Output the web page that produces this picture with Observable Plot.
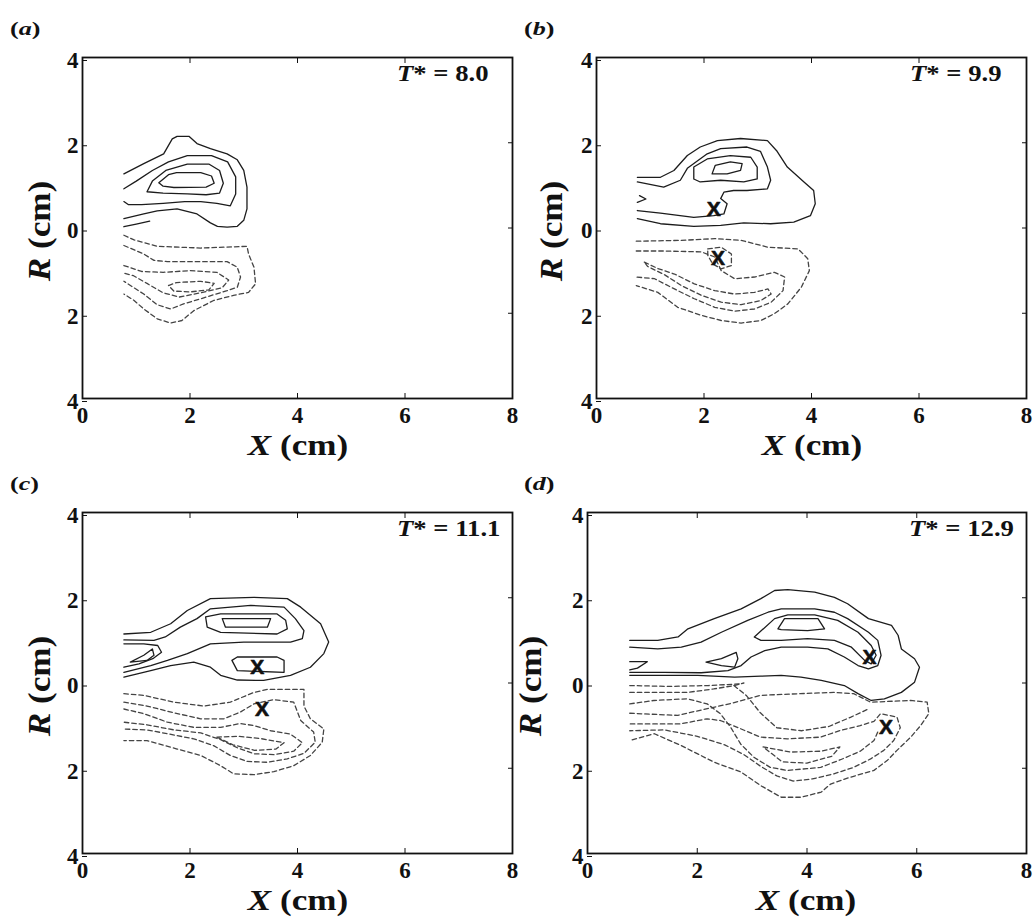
<!DOCTYPE html>
<html><head><meta charset="utf-8">
<script src="https://cdn.jsdelivr.net/npm/d3@7"></script>
<script src="https://cdn.jsdelivr.net/npm/@observablehq/plot@0.6"></script>
<style>
body{margin:0;background:#fff;}
#page{position:relative;width:1034px;height:920px;overflow:hidden;font-family:"Liberation Serif","Times New Roman",serif;font-weight:bold;color:#111;}
.panel{position:absolute;}
.lab{position:absolute;white-space:nowrap;line-height:1;}
.plabel{font-size:18px;transform:scaleX(1.45);transform-origin:left center;}
.tstar{font-size:23px;transform:scaleX(1.16);transform-origin:left center;}
.xlab{font-size:30px;line-height:0.5;transform:translateX(-50%) scaleX(1.17);}
.ylab{font-size:32px;line-height:0.6;transform:translate(-50%,-50%) rotate(-90deg) scaleX(1.1);}
</style></head>
<body><div id="page"></div>
<script>
// ---- ticks & labels ----
const xTicks = [0, 2, 4, 6, 8];
const yTicks = [-4, -2, 0, 2, 4];
const panelLetters = ["a", "b", "c", "d"];
const timeLabels = ["8.0", "9.9", "11.1", "12.9"];

// ---- panel (a) contours: positive (solid) and negative (dashed) ----
const solidA = [
  [[0.77,1.27],[1.14,1.51],[1.51,1.74],[1.67,2.09],[1.76,2.15],[1.98,2.15],[2.13,1.98],[2.38,1.86],[2.69,1.74],[2.88,1.60],[3.0,1.35],[3.06,0.96],[3.06,0.45],[3.0,0.18],[2.88,0.04],[2.69,0.02],[2.51,0.04],[2.38,0.12],[2.13,0.33],[1.76,0.45],[1.39,0.40],[1.14,0.33],[0.77,0.22]],
  [[0.77,0.03],[1.0,0.09],[1.25,0.16]],
  [[0.77,0.92],[1.0,1.1],[1.3,1.35],[1.6,1.55],[1.95,1.70],[2.4,1.70],[2.7,1.55],[2.85,1.20],[2.85,0.80],[2.75,0.52],[2.5,0.58],[2.2,0.62],[1.9,0.62],[1.5,0.58],[1.1,0.55],[0.85,0.55],[0.77,0.62]],
  [[1.2,0.85],[1.3,1.1],[1.55,1.35],[1.95,1.50],[2.35,1.50],[2.55,1.35],[2.62,1.05],[2.55,0.82],[2.3,0.78],[1.95,0.80],[1.5,0.82],[1.2,0.85]],
  [[1.42,1.06],[1.6,1.25],[1.75,1.30],[2.2,1.30],[2.4,1.22],[2.45,1.05],[2.3,0.96],[1.7,0.95],[1.5,0.98],[1.42,1.06]]
];
const dashedA = [
  [[0.77,-0.17],[0.96,-0.28],[1.39,-0.43],[2.2,-0.47],[3.06,-0.43],[3.09,-0.61],[3.19,-0.92],[3.22,-1.31],[3.09,-1.51],[2.81,-1.58],[2.44,-1.70],[2.07,-1.94],[1.85,-2.17],[1.64,-2.23],[1.39,-2.13],[1.14,-1.90],[0.96,-1.70],[0.77,-1.55]],
  [[0.77,-0.41],[1.14,-0.61],[1.33,-0.76],[1.58,-0.79],[2.69,-0.79],[2.88,-0.92],[2.94,-1.15],[2.88,-1.39],[2.69,-1.47],[2.2,-1.66],[1.88,-1.78],[1.64,-1.90],[1.39,-1.80],[1.14,-1.55],[0.77,-1.25]],
  [[0.77,-0.88],[1.1,-1.02],[1.5,-1.04],[2.0,-1.0],[2.5,-1.04],[2.72,-1.22],[2.6,-1.40],[2.2,-1.52],[1.8,-1.62],[1.5,-1.52],[1.2,-1.30],[0.95,-1.12],[0.77,-1.06]],
  [[1.6,-1.35],[1.75,-1.28],[2.2,-1.25],[2.45,-1.30],[2.35,-1.45],[2.0,-1.50],[1.7,-1.48],[1.6,-1.35]]
];
const markXA = [];
const markYA = [];

// ---- panel (b) ----
const solidB = [
  [[0.76,1.19],[1.19,1.19],[1.44,1.35],[1.69,1.70],[1.93,1.90],[2.25,2.05],[2.68,2.10],[3.18,2.05],[3.36,1.80],[3.55,1.43],[3.86,1.08],[4.04,0.88],[4.07,0.57],[3.98,0.29],[3.67,0.14],[3.24,0.10],[2.74,0.12],[2.31,0.06],[1.81,0.04],[1.19,0.10],[0.76,0.22]],
  [[0.76,1.08],[1.25,0.96],[1.56,1.12],[1.69,1.40],[2.06,1.74],[2.31,1.86],[2.80,1.90],[3.05,1.80],[3.18,1.43],[3.24,1.12],[3.18,0.92],[2.80,0.88],[2.55,0.88],[2.37,0.84],[2.31,0.69],[2.43,0.57],[2.37,0.33],[2.18,0.29],[1.81,0.25],[1.19,0.35],[0.76,0.41]],
  [[1.81,1.15],[1.81,1.43],[2.06,1.62],[2.49,1.70],[2.87,1.66],[2.99,1.43],[2.99,1.15],[2.74,1.08],[2.31,1.12],[1.93,1.08],[1.81,1.15]],
  [[2.15,1.27],[2.21,1.47],[2.49,1.55],[2.71,1.51],[2.68,1.35],[2.43,1.27],[2.15,1.27]],
  [[0.76,0.60],[0.92,0.68],[0.80,0.76]]
];
const dashedB = [
  [[0.74,-0.31],[1.58,-0.29],[2.20,-0.25],[2.69,-0.29],[3.19,-0.45],[3.75,-0.49],[3.93,-0.72],[3.96,-1.0],[3.81,-1.39],[3.56,-1.78],[3.31,-2.01],[3.06,-2.17],[2.69,-2.23],[2.32,-2.17],[1.95,-2.05],[1.51,-1.86],[1.14,-1.51],[0.74,-1.35]],
  [[0.74,-0.54],[1.27,-0.54],[1.95,-0.56],[2.20,-0.68],[2.32,-1.0],[2.57,-1.19],[2.94,-1.15],[3.31,-1.04],[3.50,-1.15],[3.47,-1.47],[3.25,-1.74],[2.94,-1.90],[2.57,-1.95],[2.20,-1.86],[1.82,-1.66],[1.45,-1.43],[1.08,-1.19],[0.74,-1.15]],
  [[0.89,-0.80],[1.14,-0.95],[1.45,-1.08],[1.82,-1.31],[2.20,-1.47],[2.57,-1.55],[2.94,-1.51],[3.19,-1.43],[3.25,-1.55],[3.06,-1.70],[2.69,-1.80],[2.32,-1.74],[1.95,-1.58],[1.58,-1.35],[1.27,-1.10],[0.95,-0.90],[0.89,-0.80]],
  [[2.07,-0.49],[2.32,-0.45],[2.51,-0.61],[2.51,-0.88],[2.32,-0.96],[2.16,-0.84],[2.07,-0.64],[2.07,-0.49]]
];
const markXB = [2.18, 2.26];
const markYB = [0.45, -0.72];

// ---- panel (c) ----
const solidC = [
  [[0.77,1.15],[1.27,1.19],[1.64,1.39],[1.95,1.70],[2.38,1.98],[3.19,2.01],[3.81,1.98],[4.06,1.78],[4.43,1.39],[4.58,0.96],[4.49,0.69],[4.24,0.37],[3.87,0.18],[3.37,0.06],[2.88,0.07],[2.57,0.18],[2.38,0.37],[2.07,0.49],[1.64,0.41],[1.27,0.29],[0.77,0.14]],
  [[0.77,1.01],[1.33,1.0],[1.54,1.08],[1.82,1.31],[2.13,1.51],[2.38,1.74],[3.13,1.82],[3.75,1.78],[3.96,1.51],[4.12,1.23],[4.09,1.04],[3.87,0.96],[3.44,0.96],[3.0,0.96],[2.38,0.92],[1.95,0.69],[1.58,0.53],[1.27,0.41],[0.77,0.25]],
  [[2.29,1.55],[2.32,1.31],[2.57,1.19],[3.62,1.15],[3.81,1.27],[3.78,1.47],[3.62,1.62],[2.57,1.62],[2.29,1.55]],
  [[2.60,1.51],[2.66,1.31],[3.44,1.31],[3.50,1.51],[2.60,1.51]],
  [[2.78,0.53],[2.88,0.29],[3.75,0.25],[3.75,0.53],[3.62,0.61],[2.88,0.61],[2.78,0.53]],
  [[0.89,0.49],[1.14,0.65],[1.30,0.80],[1.33,0.65],[1.20,0.53],[0.89,0.49]],
  [[0.77,0.92],[1.14,0.92],[1.40,0.88],[1.47,0.72],[1.32,0.58],[1.05,0.45],[0.77,0.37]]
];
const dashedC = [
  [[0.77,-0.25],[1.14,-0.29],[1.70,-0.45],[2.26,-0.54],[2.75,-0.45],[3.19,-0.22],[3.44,-0.15],[4.12,-0.15],[4.12,-0.54],[4.24,-0.84],[4.49,-1.08],[4.46,-1.39],[4.24,-1.70],[3.93,-1.94],[3.56,-2.08],[3.19,-2.15],[2.81,-2.13],[2.57,-1.94],[2.20,-1.70],[1.76,-1.55],[1.20,-1.35],[0.77,-1.35]],
  [[0.77,-0.45],[1.20,-0.54],[1.70,-0.70],[2.20,-0.84],[2.63,-0.84],[2.94,-0.68],[3.19,-0.49],[3.56,-0.39],[3.93,-0.45],[4.06,-0.88],[4.30,-1.15],[4.33,-1.39],[4.12,-1.65],[3.81,-1.78],[3.44,-1.86],[3.06,-1.84],[2.75,-1.70],[2.44,-1.47],[2.07,-1.31],[1.58,-1.19],[1.20,-1.10],[0.77,-1.08]],
  [[0.77,-0.61],[1.14,-0.72],[1.58,-0.92],[2.07,-1.04],[2.57,-1.04],[2.94,-0.95],[3.19,-1.00],[3.50,-1.12],[3.87,-1.20],[4.09,-1.40],[3.93,-1.60],[3.56,-1.68],[3.19,-1.66],[2.88,-1.52],[2.57,-1.33],[2.20,-1.17],[1.70,-1.10],[1.20,-0.98],[0.77,-0.92]],
  [[2.5,-1.27],[2.9,-1.25],[3.3,-1.30],[3.75,-1.40],[3.6,-1.55],[3.2,-1.58],[2.8,-1.45],[2.5,-1.27]]
];
const markXC = [3.25, 3.34];
const markYC = [0.37, -0.61];

// ---- panel (d) ----
const solidD = [
  [[0.77,1.0],[1.28,1.0],[1.65,1.08],[1.83,1.27],[2.31,1.51],[2.80,1.74],[3.16,1.98],[3.41,2.17],[3.65,2.19],[4.14,2.13],[4.50,2.01],[4.74,1.86],[5.12,1.51],[5.54,1.35],[5.66,1.12],[5.72,0.80],[5.96,0.57],[6.05,0.37],[5.96,0.02],[5.72,-0.22],[5.41,-0.37],[5.17,-0.41],[4.93,-0.25],[4.68,-0.06],[4.26,0.06],[3.89,0.14],[3.53,0.18],[3.16,0.16],[2.68,0.14],[2.01,0.18],[0.77,0.18]],
  [[0.77,0.84],[1.28,0.80],[1.71,0.84],[2.07,0.96],[2.44,1.19],[2.92,1.47],[3.29,1.66],[3.53,1.74],[4.14,1.74],[4.50,1.66],[4.74,1.51],[5.12,1.19],[5.29,1.0],[5.35,0.65],[5.29,0.41],[5.12,0.33],[4.93,0.41],[4.68,0.61],[4.38,0.80],[4.01,0.84],[3.53,0.84],[3.23,0.76],[2.98,0.61],[2.80,0.41],[2.56,0.29],[2.07,0.24],[1.40,0.25],[0.77,0.25]],
  [[3.04,1.08],[3.41,1.51],[3.65,1.60],[4.14,1.60],[4.56,1.47],[4.93,1.19],[5.17,0.88],[5.26,0.65],[5.17,0.45],[5.05,0.53],[4.81,0.84],[4.50,1.0],[4.01,1.04],[3.53,1.0],[3.16,1.0],[3.04,1.08]],
  [[3.47,1.27],[3.59,1.51],[4.20,1.51],[4.32,1.27],[4.01,1.23],[3.53,1.25],[3.47,1.27]],
  [[2.16,0.49],[2.44,0.57],[2.71,0.72],[2.74,0.57],[2.68,0.37],[2.44,0.41],[2.16,0.49]],
  [[0.77,0.50],[1.09,0.50],[0.91,0.35],[0.77,0.31]]
];
const dashedD = [
  [[0.77,-0.71],[1.64,-0.76],[2.61,-0.48],[3.15,-0.29],[3.88,-0.25],[4.49,-0.22],[4.85,-0.25],[5.16,-0.45],[5.89,-0.41],[6.19,-0.45],[6.22,-0.72],[6.07,-1.0],[5.89,-1.27],[5.64,-1.58],[5.46,-1.82],[5.22,-2.05],[4.79,-2.21],[4.43,-2.37],[4.26,-2.56],[3.89,-2.68],[3.53,-2.68],[3.16,-2.41],[2.80,-2.09],[2.31,-1.86],[1.71,-1.47],[1.22,-1.19],[0.77,-1.35]],
  [[0.78,-0.96],[1.69,-0.96],[2.18,-0.84],[2.42,-0.88],[2.73,-1.04],[3.15,-1.27],[3.64,-1.31],[4.25,-1.27],[4.61,-1.11],[4.97,-1.0],[5.22,-0.90],[5.34,-0.72],[5.64,-0.80],[5.70,-1.05],[5.58,-1.35],[5.40,-1.58],[5.16,-1.78],[4.85,-1.98],[4.49,-2.13],[4.10,-2.25],[3.75,-2.30],[3.45,-2.18],[3.15,-1.95],[2.85,-1.68],[2.50,-1.45],[2.00,-1.25],[1.40,-1.10],[0.77,-1.12]],
  [[0.77,-0.49],[1.21,-0.41],[1.82,-0.37],[2.18,-0.49],[2.42,-0.72],[2.61,-1.04],[2.79,-1.43],[3.03,-1.74],[3.33,-1.98],[3.64,-2.05],[4.00,-2.01],[4.25,-1.98],[4.61,-1.80],[4.97,-1.60],[5.22,-1.35],[5.30,-1.12]],
  [[0.77,-0.06],[1.5,-0.08],[2.2,-0.06],[2.8,-0.02]],
  [[0.77,-0.22],[1.82,-0.22],[2.30,-0.14],[2.67,-0.06],[2.85,0.0]],
  [[2.67,-0.06],[2.9,-0.30],[3.15,-0.70],[3.45,-1.05],[3.9,-1.12],[4.4,-1.02],[4.8,-0.80],[5.1,-0.62]],
  [[3.2,-1.50],[3.7,-1.62],[4.25,-1.60],[4.6,-1.50],[4.45,-1.72],[4.0,-1.88],[3.55,-1.85],[3.2,-1.50]]
];
const markXD = [5.14, 5.44];
const markYD = [0.61, -1.04];

// ---- layout (positions only) ----
const layout = [
  {left:0,   top:0,   ml:82, tstar:397, xlab:298, ylab:40},
  {left:514, top:0,   ml:82, tstar:910, xlab:812, ylab:552},
  {left:0,   top:455, ml:82, tstar:397, xlab:298, ylab:40},
  {left:514, top:455, ml:73, tstar:909, xlab:806, ylab:531}
];
const solids = [solidA, solidB, solidC, solidD];
const dasheds = [dashedA, dashedB, dashedC, dashedD];
const markXs = [markXA, markXB, markXC, markXD];
const markYs = [markYA, markYB, markYC, markYD];

function toRows(lines, prefix) {
  return lines.flatMap((pts, i) => pts.map(([x, y]) => ({x, y, id: prefix + i})));
}

const serif = '"Liberation Serif","Times New Roman",serif';
const axisFont = {fontFamily: serif, fontSize: 23, fontWeight: "bold"};
const page = document.getElementById("page");
layout.forEach((L, k) => {
  const marks = markXs[k].map((x, i) => ({x, y: markYs[k][i]}));
  const chart = Plot.plot({
    width: 517, height: 460,
    marginLeft: L.ml, marginRight: 5, marginTop: 57, marginBottom: 62,
    x: {domain: [0, 8], label: null},
    y: {domain: [-4, 4], label: null},
    style: {fontFamily: serif, fontSize: "23px", fontWeight: "bold", color: "#111", background: "transparent", overflow: "visible"},
    marks: [
      Plot.line(toRows(solids[k], "s"), {x: "x", y: "y", z: "id", stroke: "#1c1c1c", strokeWidth: 1.3}),
      Plot.line(toRows(dasheds[k], "d"), {x: "x", y: "y", z: "id", stroke: "#444", strokeWidth: 1.3, strokeDasharray: "4.5,3"}),
      Plot.text(marks, {x: "x", y: "y", text: () => "X", fontFamily: '"Liberation Sans",Arial,sans-serif', fontWeight: 900, fontSize: 21, fill: "#111", stroke: "#111", strokeWidth: 0.6}),
      Plot.axisX(xTicks, {anchor: "bottom", tickSize: -5, tickPadding: 13, label: null, ...axisFont}),
      Plot.axisY(yTicks, {anchor: "left", tickSize: -5, tickPadding: 9, dy: 3, tickFormat: d => Math.abs(d), label: null, ...axisFont}),
      Plot.axisX(xTicks, {anchor: "top", tickSize: -5, tickFormat: () => "", label: null}),
      Plot.axisY(yTicks, {anchor: "right", tickSize: -5, tickFormat: () => "", label: null}),
      Plot.frame({stroke: "#111", strokeWidth: 1.8})
    ]
  });
  const wrap = document.createElement("div");
  wrap.className = "panel";
  wrap.style.left = L.left + "px";
  wrap.style.top = L.top + "px";
  wrap.appendChild(chart);
  page.appendChild(wrap);

  const pl = document.createElement("div");
  pl.className = "lab plabel";
  pl.style.left = (L.left + 10) + "px";
  pl.style.top = (L.top + 20) + "px";
  pl.innerHTML = "(<i>" + panelLetters[k] + "</i>)";
  page.appendChild(pl);

  const ts = document.createElement("div");
  ts.className = "lab tstar";
  ts.style.left = L.tstar + "px";
  ts.style.top = (L.top + 62) + "px";
  ts.innerHTML = "<i>T</i>* = " + timeLabels[k];
  page.appendChild(ts);

  const xl = document.createElement("div");
  xl.className = "lab xlab";
  xl.style.left = L.xlab + "px";
  xl.style.top = (L.top + 437) + "px";
  xl.innerHTML = "<i>X</i> (cm)";
  page.appendChild(xl);

  const yl = document.createElement("div");
  yl.className = "lab ylab";
  yl.style.left = L.ylab + "px";
  yl.style.top = (L.top + 231) + "px";
  yl.innerHTML = "<i>R</i> (cm)";
  page.appendChild(yl);
});
</script>
</body></html>
